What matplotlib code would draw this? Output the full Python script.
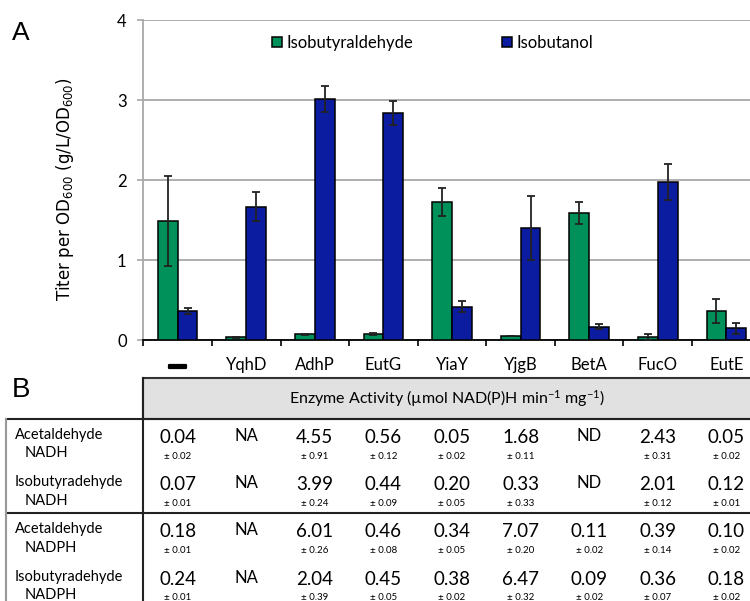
import numpy as np
import matplotlib.pyplot as plt
import matplotlib.patheffects as pe
from matplotlib.patches import Rectangle
from matplotlib.transforms import blended_transform_factory

# Panel A data (titer per OD600, g/L/OD600).
cats = ['—', 'YqhD', 'AdhP', 'EutG', 'YiaY', 'YjgB', 'BetA', 'FucO', 'EutE']
ald = [1.49, 0.04, 0.075, 0.08, 1.73, 0.055, 1.59, 0.04, 0.37]
ald_err = [0.56, 0.005, 0.005, 0.012, 0.18, 0.005, 0.14, 0.035, 0.15]
ol = [0.37, 1.67, 3.02, 2.84, 0.42, 1.41, 0.17, 1.98, 0.15]
ol_err = [0.04, 0.18, 0.16, 0.15, 0.07, 0.40, 0.03, 0.22, 0.07]

# Panel B data (enzyme activity).
row_subs = ['Acetaldehyde', 'Isobutyradehyde', 'Acetaldehyde', 'Isobutyradehyde']
row_cof = ['NADH', 'NADH', 'NADPH', 'NADPH']
act = [
    [0.04, 'NA', 4.55, 0.56, 0.05, 1.68, 'ND', 2.43, 0.05],
    [0.07, 'NA', 3.99, 0.44, 0.20, 0.33, 'ND', 2.01, 0.12],
    [0.18, 'NA', 6.01, 0.46, 0.34, 7.07, 0.11, 0.39, 0.10],
    [0.24, 'NA', 2.04, 0.45, 0.38, 6.47, 0.09, 0.36, 0.18],
]
act_sd = [
    [0.02, None, 0.91, 0.12, 0.02, 0.11, None, 0.31, 0.02],
    [0.01, None, 0.24, 0.09, 0.05, 0.33, None, 0.12, 0.01],
    [0.01, None, 0.26, 0.08, 0.05, 0.20, 0.02, 0.14, 0.02],
    [0.01, None, 0.39, 0.05, 0.02, 0.32, 0.02, 0.07, 0.02],
]

green = '#00905a'
blue = '#0b1ca0'
grid_c = '#a8a8a8'
cal = ['Lato', 'DejaVu Sans']

W, H = 750, 601
fig = plt.figure(figsize=(W / 100, H / 100), dpi=100)

# overlay in pixel coordinates for the table and panel letters
tab = fig.add_axes([0, 0, 1, 1])
tab.set_xlim(0, W)
tab.set_ylim(H, 0)
tab.axis('off')

ax_l, ax_b, cat_w = 143.3, 340.3, 68.6
ax = fig.add_axes([ax_l / W, (H - ax_b) / H, 9 * cat_w / W, 320 / H])
x = np.arange(len(cats))
bw = 0.29
ekw = dict(ecolor='#222222', elinewidth=1.3, capthick=1.3)
ax.bar(x - bw / 2, ald, bw, yerr=ald_err, capsize=3, color=green,
       edgecolor='black', linewidth=1.1, label='Isobutyraldehyde', error_kw=ekw, zorder=3)
ax.bar(x + bw / 2, ol, bw, yerr=ol_err, capsize=3, color=blue,
       edgecolor='black', linewidth=1.1, label='Isobutanol', error_kw=ekw, zorder=3)

ax.set_xlim(-0.5, len(cats) - 0.5)
ax.set_ylim(0, 4)
ax.set_yticks([0, 1, 2, 3, 4])
ax.yaxis.grid(True, color=grid_c, linewidth=1.3)
ax.set_axisbelow(True)
for s in ['top', 'right']:
    ax.spines[s].set_visible(False)
ax.spines['left'].set_color(grid_c)
ax.spines['left'].set_linewidth(1.3)
ax.spines['bottom'].set_linewidth(1.3)
ax.tick_params(axis='y', length=4, width=1.2, color=grid_c, pad=8)
for t in ax.get_yticklabels():
    t.set_family(cal)
    t.set_fontsize(12)
ax.set_xticks(np.arange(len(cats) + 1) - 0.5)
ax.set_xticklabels([])
ax.tick_params(axis='x', which='major', length=4.5, width=1.2)
ax.set_xticks(x, minor=True)
ax.set_xticklabels(cats, minor=True, family=cal, fontsize=12)
ax.tick_params(axis='x', which='minor', length=0, pad=12)
dash = ax.get_xticklabels(minor=True)[0]
dash.set_family('DejaVu Sans')
dash.set_fontsize(14)
dash.set_fontweight('bold')
dash.set_path_effects([pe.withStroke(linewidth=1.6, foreground='black')])

ax.legend(loc='center left', bbox_to_anchor=(271.7, 43), bbox_transform=tab.transData,
          ncol=2, frameon=False, prop={'family': cal, 'size': 12},
          handlelength=0.6, handleheight=0.6, handletextpad=0.3,
          columnspacing=5.3, borderpad=0, borderaxespad=0)

fig.text(65 / W, 1 - 189.5 / H, r'Titer per OD$\mathregular{_{600}}$ (g/L/OD$\mathregular{_{600}}$)',
         rotation=90, ha='center', va='center', fontsize=12, family='DejaVu Sans')

tab.text(12, 40, 'A', fontsize=19, family='Liberation Sans', va='baseline')
tab.text(12, 397, 'B', fontsize=20, family='Liberation Sans', va='baseline')

# table
tab.add_patch(Rectangle((ax_l, 377.7), 700, 419 - 377.7, facecolor='#e1e1e1',
                        edgecolor='#333333', linewidth=1.5))
tab.plot([5.7, W], [419, 419], color='#222222', lw=1.5)
tab.plot([5.7, W], [513.3, 513.3], color='#222222', lw=1.5)
tab.plot([ax_l, ax_l], [377.7, H], color='#222222', lw=1.5)
tab.plot([5.7, 5.7], [419, H], color='#999999', lw=1.5)
tab.text((ax_l + W) / 2, 399,
         r'Enzyme Activity (µmol NAD(P)H min$\mathregular{^{-1}}$ mg$\mathregular{^{-1}}$)',
         ha='center', va='center', family=cal, fontsize=11.5)

val_y = [437.7, 484.3, 531.7, 579.3]
sd_y = [456.7, 503.3, 550.7, 597.5]
lab1_y = [435, 482.3, 529.3, 576.7]
lab2_y = [453.3, 500.7, 548.3, 595]
colt = blended_transform_factory(ax.transData, tab.transData)
for r in range(len(act)):
    tab.text(15, lab1_y[r], row_subs[r], ha='left', va='center', family=cal, fontsize=10.5)
    tab.text(25, lab2_y[r], row_cof[r], ha='left', va='center', family=cal, fontsize=10.5)
    for c in range(len(cats)):
        v = act[r][c]
        if isinstance(v, str):
            tab.text(c, val_y[r] - 1.5, v, transform=colt, ha='center', va='center',
                     family=cal, fontsize=12)
        else:
            tab.text(c, val_y[r], f'{v:.2f}', transform=colt, ha='center', va='center',
                     family=cal, fontsize=13.5)
            tab.text(c, sd_y[r], f'± {act_sd[r][c]:.2f}', transform=colt, ha='center',
                     va='center', family=cal, fontsize=7)

fig.savefig('out.png', dpi=100)
